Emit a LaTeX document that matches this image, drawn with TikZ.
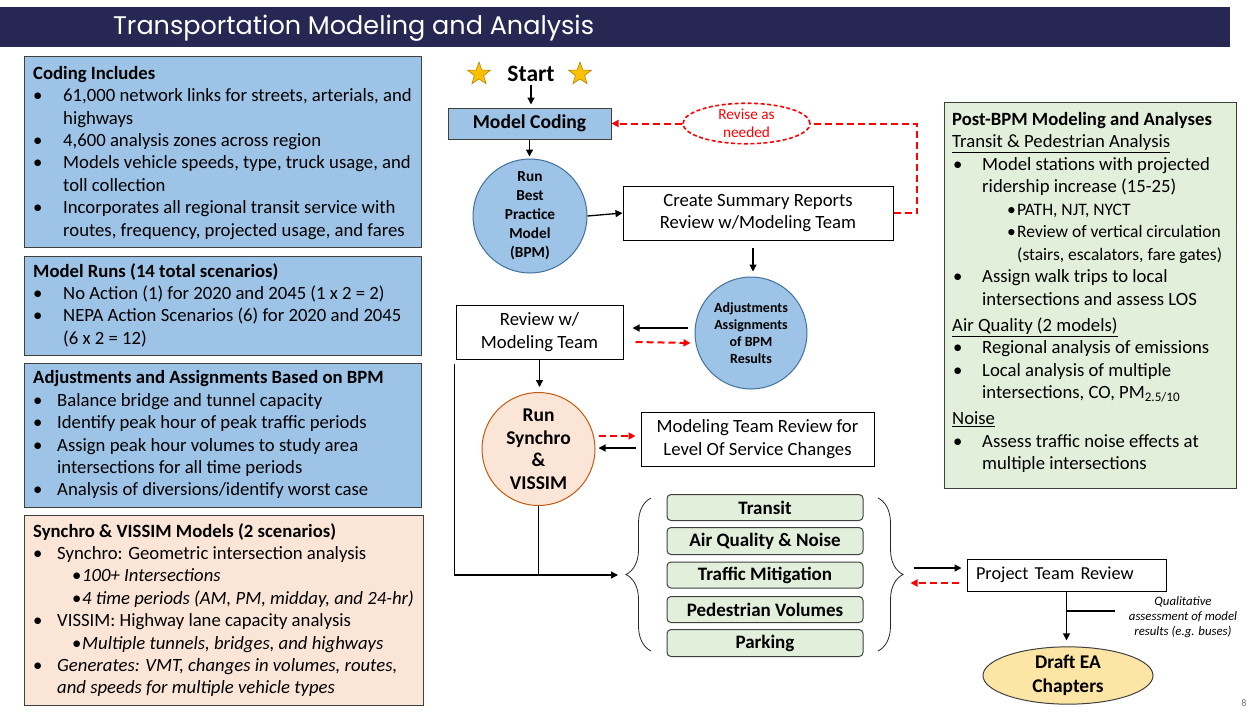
\documentclass[tikz,border=0pt]{standalone}
\usepackage{fontspec}
\setmainfont{Carlito}
\newfontfamily\titlefont{Poppins}
\usetikzlibrary{shapes.geometric,arrows.meta,decorations.pathreplacing,calc}

\definecolor{navy}{RGB}{38,40,83}
\definecolor{lblue}{RGB}{157,195,230}
\definecolor{bblue}{RGB}{65,113,156}
\definecolor{peach}{RGB}{251,229,214}
\definecolor{orangeb}{RGB}{197,90,17}
\definecolor{lgreen}{RGB}{226,239,218}
\definecolor{eayellow}{RGB}{253,230,165}
\definecolor{stargold}{RGB}{255,192,0}
\definecolor{boxgray}{RGB}{64,64,64}
\definecolor{redline}{RGB}{255,0,0}

\newcommand\bitem[2][30pt]{\makebox[#1][l]{\textbullet}#2}
\newcommand\bcont[2][30pt]{\hspace*{#1}#2}
\newcommand\sitem[1]{\hspace*{39pt}\makebox[10pt][l]{\textbullet}#1}
\newcommand\ritem[1]{\makebox[30pt][l]{\hspace*{1pt}\textbullet}#1}
\newcommand\rcont[1]{\hspace*{30pt}#1}
\newcommand\rsub[1]{\hspace*{55pt}\makebox[10pt][l]{\fontsize{17.5}{22.5}\selectfont\textbullet}{\fontsize{17.5}{22.5}\selectfont #1}}
\newcommand\rsubc[1]{\hspace*{65pt}{\fontsize{17.5}{22.5}\selectfont #1}}

\begin{document}
\begin{tikzpicture}[x=1pt,y=-1pt,
  lbox/.style={draw=boxgray,line width=0.9pt,fill=lblue,inner sep=0,anchor=north west},
  ltext/.style={anchor=north west,align=left,inner sep=0,font=\fontsize{18.7}{22.4}\selectfont},
  fbox/.style={draw=black,line width=1pt,fill=white,inner sep=0,align=center,font=\fontsize{18.7}{22.5}\selectfont},
  gbox/.style={draw=boxgray,line width=1pt,fill=lgreen,rounded corners=4pt,minimum width=196,minimum height=26,inner sep=0,font=\bfseries\fontsize{19}{21}\selectfont},
  bcirc/.style={circle,draw=bblue,line width=1pt,fill=lblue,inner sep=0,align=center},
  arr/.style={line width=1.3pt,-{Triangle[length=7pt,width=7pt]}},
  plain/.style={line width=1.3pt},
  reddash/.style={draw=redline,line width=2pt,dash pattern=on 7pt off 4pt},
  redarr/.style={reddash,-{Triangle[length=7pt,width=7pt]}},
  bracestyle/.style={draw=black!85,line width=0.8pt,decorate,decoration={brace,amplitude=25pt}},
  staricon/.style={star,star points=5,star point ratio=2.45,fill=stargold,draw=stargold!70!black,line width=0.6pt,minimum size=24pt,inner sep=0}
]
\useasboundingbox (0,0) rectangle (1255,713);
\fill[white] (0,0) rectangle (1255,713);

% title bar
\node[fill=navy,minimum width=1230,minimum height=40,inner sep=0,anchor=north west] (bar) at (0,7) {};
\node[text=white,anchor=west,inner sep=0,font=\titlefont\fontsize{25.5}{28}\selectfont] (title) at (113,28) {Transportation Modeling and Analysis};

% left boxes
\node[lbox,minimum width=397,minimum height=191] (coding) at (24,56) {};
\node[ltext] (codingtxt) at (33,66) {\textbf{Coding Includes}\\
\bitem{61,000 network links for streets, arterials, and}\\
\bcont{highways}\\
\bitem{4,600 analysis zones across region}\\
\bitem{Models vehicle speeds, type, truck usage, and}\\
\bcont{toll collection}\\
\bitem{Incorporates all regional transit service with}\\
\bcont{routes, frequency, projected usage, and fares}};

\node[lbox,minimum width=397,minimum height=99] (runs) at (24,256) {};
\node[ltext] (runstxt) at (33,263) {\textbf{Model Runs (14 total scenarios)}\\
\bitem{No Action (1) for 2020 and 2045 (1 x 2 = 2)}\\
\bitem{NEPA Action Scenarios (6) for 2020 and 2045}\\
\bcont{(6 x 2 = 12)}};

\node[lbox,minimum width=397,minimum height=144] (adjbox) at (24,363) {};
\node[ltext] (adjtxt) at (33,370.5) {\textbf{Adjustments and Assignments Based on BPM}\\
\bitem[24pt]{Balance bridge and tunnel capacity}\\
\bitem[24pt]{Identify peak hour of peak traffic periods}\\
\bitem[24pt]{Assign peak hour volumes to study area}\\
\bcont[24pt]{intersections for all time periods}\\
\bitem[24pt]{Analysis of diversions/identify worst case}};

\node[lbox,fill=peach,minimum width=399,minimum height=190] (synbox) at (24,515) {};
\node[ltext] (syntxt) at (33,523) {\textbf{Synchro \& VISSIM Models (2 scenarios)}\\
\bitem[24pt]{Synchro: Geometric intersection analysis}\\
\sitem{\itshape 100+ Intersections}\\
\sitem{\itshape 4 time periods (AM, PM, midday, and 24-hr)}\\
\bitem[24pt]{VISSIM: Highway lane capacity analysis}\\
\sitem{\itshape Multiple tunnels, bridges, and highways}\\
\bitem[24pt]{\itshape Generates: VMT, changes in volumes, routes,}\\
\bcont[24pt]{\itshape and speeds for multiple vehicle types}};

% right box
\node[lbox,fill=lgreen,minimum width=292,minimum height=386] (post) at (944,102) {};
\node[ltext,font=\fontsize{18.7}{22.5}\selectfont] (posttxt) at (952,112) {\textbf{Post-BPM Modeling and Analyses}\\
\underline{Transit \& Pedestrian Analysis}\\
\ritem{Model stations with projected}\\
\rcont{ridership increase (15-25)}\\
\rsub{PATH, NJT, NYCT}\\
\rsub{Review of vertical circulation}\\
\rsubc{(stairs, escalators, fare gates)}\\
\ritem{Assign walk trips to local}\\
\rcont{intersections and assess LOS}\\[3.5pt]
\underline{Air Quality (2 models)}\\
\ritem{Regional analysis of emissions}\\
\ritem{Local analysis of multiple}\\
\rcont{intersections, CO, PM\textsubscript{2.5/10}}\\[3.5pt]
\underline{Noise}\\
\ritem{Assess traffic noise effects at}\\
\rcont{multiple intersections}};

% flowchart
\node[font=\bfseries\fontsize{23.5}{26}\selectfont,inner sep=0] (start) at (531,74) {Start};
\node[staricon] (star1) at (479,74) {};
\node[staricon] (star2) at (580,74) {};

\node[fbox,fill=lblue,draw=boxgray,minimum width=163,minimum height=31,font=\bfseries\fontsize{19.6}{22}\selectfont] (mcode) at (529.5,123.5) {Model Coding};
\node[bcirc,minimum size=114,font=\bfseries\fontsize{15.3}{19}\selectfont] (bpm) at (530,216) {Run\\Best\\Practice\\Model\\(BPM)};
\node[fbox,minimum width=270,minimum height=54] (create) at (758,213) {Create Summary Reports\\Review w/Modeling Team};
\node[ellipse,draw=redline,line width=1.6pt,dash pattern=on 4pt off 2.5pt,minimum width=127,minimum height=37,inner sep=0,align=center,text=redline,font=\fontsize{15.3}{18}\selectfont] (revise) at (746.5,123.5) {Revise as\\needed};
\coordinate (loopc) at (917,123.5);

\node[bcirc,minimum size=112,font=\bfseries\fontsize{14}{17}\selectfont] (adj) at (751,333) {Adjustments\\Assignments\\of BPM\\Results};
\node[fbox,minimum width=167,minimum height=54] (review) at (539.5,332) {Review w/\\Modeling Team};
\node[circle,draw=orangeb,line width=1pt,fill=peach,inner sep=0,align=center,minimum size=113,font=\bfseries\fontsize{19.5}{22.5}\selectfont] (synchro) at (538.5,449) {Run\\Synchro\\\&\\VISSIM};
\node[fbox,minimum width=233,minimum height=54] (mteam) at (757.5,439) {Modeling Team Review for\\Level Of Service Changes};

\node[gbox] (transit) at (765,507.5) {Transit};
\node[gbox,minimum height=27] (airq) at (765,541) {Air Quality \& Noise};
\node[gbox] (traffic) at (765,575) {Traffic Mitigation};
\node[gbox] (ped) at (765,609.5) {Pedestrian Volumes};
\node[gbox,minimum height=27] (park) at (765,643) {Parking};

\coordinate (lb1) at (651,498);
\coordinate (lb2) at (651,651);
\coordinate (rb1) at (878,498);
\coordinate (rb2) at (878,651);
\coordinate (bt) at (618,575);

\node[fbox,minimum width=199,minimum height=32,text width=181,inner xsep=9,align=left,font=\fontsize{18.3}{22}\selectfont] (project) at (1066.5,575) {Project Team Review};
\node[ellipse,draw=boxgray,line width=1pt,fill=eayellow,minimum width=170,minimum height=55,inner sep=0,align=center,font=\bfseries\fontsize{19.4}{24}\selectfont] (draft) at (1068,675.5) {Draft EA\\Chapters};
\node[align=center,inner sep=0,font=\itshape\fontsize{12.8}{15}\selectfont] (qual) at (1183,617) {Qualitative\\assessment of model\\results (e.g. buses)};
\coordinate (qa) at (1066.5,611);
\coordinate (qb) at (1115,611);
\node[text=black!55,inner sep=0,font=\fontsize{10}{12}\selectfont] (pnum) at (1244,703) {8};

% connectors
\draw[arr,shorten <=3pt,shorten >=3pt] (start.south) -- (start.south |- mcode.north);
\draw[arr,shorten >=2pt] (mcode.south) -- (mcode.south |- bpm.north);
\draw[arr] (bpm.east) -- (create.west);
\draw[reddash] (create.east) -| (loopc) -- (revise.east);
\draw[redarr] (revise.west) -- (mcode.east);
\draw[arr] ($(create.south)+(-5,7)$) -- ($(adj.north)+(2,-5)$);
\draw[arr] ($(adj.west)+(-7,-5)$) -- ($(review.east)+(9,-4)$);
\draw[redarr] ($(review.east)+(12,10)$) -- ($(adj.west)+(-4,10)$);
\draw[arr,shorten >=5pt] (review.south) -- (review.south |- synchro.north);
\draw[redarr] ($(synchro.east)+(3,-13)$) -- ($(mteam.west)+(-5,-3)$);
\draw[arr] ($(mteam.west)+(-5,9)$) -- ($(synchro.east)+(3,-1)$);
\draw[arr] ($(review.south west)+(-1,4)$) |- (bt);
\draw[plain] (synchro.south) -- (synchro.south |- bt);
\draw[bracestyle] (lb2) -- (lb1);
\draw[bracestyle] (rb1) -- (rb2);
\draw[arr] ($(project.west)+(-53,-7)$) -- ($(project.west)+(-5,-7)$);
\draw[redarr] ($(project.west)+(-8,8)$) -- ($(project.west)+(-56,8)$);
\draw[arr,shorten >=6pt] (project.south) -- (project.south |- draft.north);
\draw[plain] (qa) -- (qb);
\end{tikzpicture}
\end{document}
